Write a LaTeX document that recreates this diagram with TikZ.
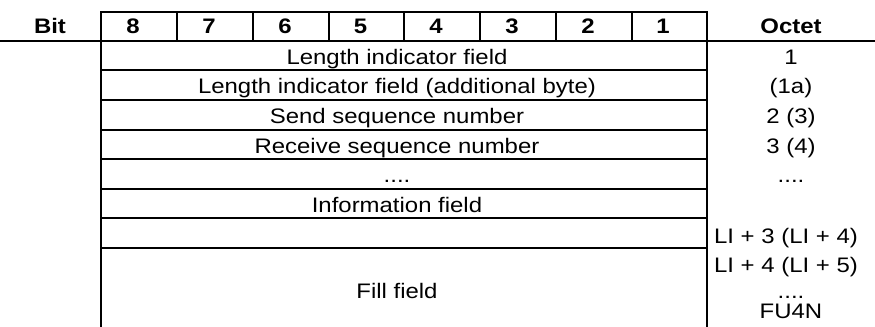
\documentclass[tikz,border=0pt]{standalone}
\usepackage{fontspec}
\setmainfont[FakeStretch=1.14]{Liberation Sans}
\begin{document}
\begin{tikzpicture}[x=0.5pt,y=-0.5pt,
  rule/.style={line width=0.65pt,black},
  hd/.style={anchor=base,inner sep=0pt,font=\fontsize{10.5pt}{12pt}\selectfont\bfseries},
  txt/.style={anchor=base,inner sep=0pt,font=\fontsize{10.5pt}{12pt}\selectfont}]
\useasboundingbox (0,0) rectangle (875,327);
% header box and grid
\draw[rule] (101,327) -- (101,12) -- (707,12) -- (707,327);
\draw[rule] (0,41) -- (875,41);
\foreach \x in {177,253,329,404,480,556,632} \draw[rule] (\x,12) -- (\x,41);
\foreach \y in {70,100,130,159,189,218,248} \draw[rule] (101,\y) -- (707,\y);
% header texts
\node[hd] (bit) at (50,33.5) {Bit};
\node[hd] (b8) at (133,33.5) {8};
\node[hd] (b7) at (209,33.5) {7};
\node[hd] (b6) at (285,33.5) {6};
\node[hd] (b5) at (360.5,33.5) {5};
\node[hd] (b4) at (436,33.5) {4};
\node[hd] (b3) at (512,33.5) {3};
\node[hd] (b2) at (588,33.5) {2};
\node[hd] (b1) at (663,33.5) {1};
\node[hd] (oct) at (791,33.5) {Octet};
% field texts
\node[txt] (f1) at (397,64) {Length indicator field};
\node[txt] (f2) at (397,93) {Length indicator field (additional byte)};
\node[txt] (f3) at (397,123) {Send sequence number};
\node[txt] (f4) at (397,153) {Receive sequence number};
\node[txt] (f5) at (397,182) {....};
\node[txt] (f6) at (397,212) {Information field};
\node[txt] (f7) at (397,298) {Fill field};
% octet texts
\node[txt] (o1) at (791,64) {1};
\node[txt] (o2) at (791,93) {(1a)};
\node[txt] (o3) at (791,123) {2 (3)};
\node[txt] (o4) at (791,153) {3 (4)};
\node[txt] (o5) at (791,182) {....};
\node[txt] (o6) at (786,243) {LI + 3 (LI + 4)};
\node[txt] (o7) at (786,272) {LI + 4 (LI + 5)};
\node[txt] (o8) at (791,298) {....};
\node[txt] (o9) at (791,318) {FU4N};
\end{tikzpicture}
\end{document}
